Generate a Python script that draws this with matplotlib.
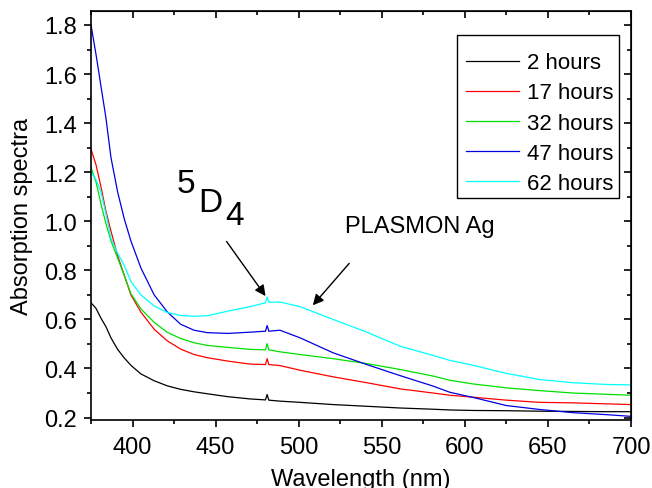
import numpy as np
import matplotlib
matplotlib.use('Agg')
from matplotlib import pyplot as plt
from matplotlib.patches import Rectangle
from matplotlib.ticker import MultipleLocator

# wavelength (nm) and absorbance
wl = [375, 378, 381, 384, 387, 391, 395, 399, 405, 413, 421, 429, 437, 445,
      457.5, 470.7, 480, 481, 482, 488.7, 500.8, 520.7, 541, 561, 581, 591,
      605, 625, 645, 665, 685, 700]

h2 = [0.668, 0.645, 0.605, 0.570, 0.525, 0.478, 0.443, 0.413, 0.378, 0.350,
      0.329, 0.315, 0.305, 0.297, 0.285, 0.276, 0.272, 0.294, 0.271, 0.267,
      0.262, 0.253, 0.246, 0.239, 0.234, 0.231, 0.229, 0.228, 0.226, 0.225,
      0.224, 0.224]
h17 = [1.294, 1.230, 1.140, 1.040, 0.960, 0.860, 0.780, 0.700, 0.630, 0.560,
       0.512, 0.479, 0.457, 0.444, 0.430, 0.418, 0.416, 0.440, 0.416, 0.412,
       0.393, 0.366, 0.342, 0.317, 0.300, 0.291, 0.283, 0.271, 0.262, 0.260,
       0.256, 0.253]
h32 = [1.219, 1.160, 1.070, 0.990, 0.920, 0.850, 0.780, 0.705, 0.643, 0.588,
       0.547, 0.522, 0.505, 0.494, 0.486, 0.478, 0.476, 0.501, 0.476, 0.468,
       0.457, 0.440, 0.420, 0.396, 0.369, 0.352, 0.337, 0.321, 0.310, 0.300,
       0.295, 0.291]
h47 = [1.800, 1.680, 1.550, 1.420, 1.260, 1.120, 1.010, 0.920, 0.810, 0.700,
       0.630, 0.580, 0.556, 0.546, 0.543, 0.548, 0.552, 0.575, 0.552, 0.556,
       0.525, 0.464, 0.416, 0.371, 0.328, 0.303, 0.282, 0.249, 0.233, 0.220,
       0.212, 0.205]
h62 = [1.200, 1.170, 1.120, 1.030, 0.930, 0.870, 0.820, 0.755, 0.700, 0.655,
       0.628, 0.616, 0.613, 0.615, 0.634, 0.652, 0.668, 0.691, 0.670, 0.671,
       0.652, 0.600, 0.548, 0.491, 0.453, 0.433, 0.413, 0.380, 0.355, 0.342,
       0.335, 0.333]

labels = ['2 hours', '17 hours', '32 hours', '47 hours', '62 hours']
colors = ['black', 'red', '#00e000', '#0000e0', 'cyan']

plt.rcParams.update({'font.family': 'Liberation Sans', 'font.size': 17})

fig = plt.figure(figsize=(6.52, 4.89), dpi=100)
ax = fig.add_axes([0.1396, 0.139, 0.8282, 0.8365])

for y, lab, c in zip([h2, h17, h32, h47, h62], labels, colors):
    ax.plot(wl, y, color=c, lw=0.9, label=lab)

ax.set_xlim(375, 700)
ax.set_ylim(0.19, 1.857)
ax.xaxis.set_major_locator(MultipleLocator(50))
ax.xaxis.set_minor_locator(MultipleLocator(25))
ax.yaxis.set_major_locator(MultipleLocator(0.2))
ax.yaxis.set_minor_locator(MultipleLocator(0.1))
ax.yaxis.set_major_formatter(plt.FormatStrFormatter('%.1f'))
ax.tick_params(which='both', direction='out', top=False, right=False, width=1.2)
ax.tick_params(which='major', length=5)
ax.tick_params(which='minor', length=3)
ax.tick_params(axis='x', which='major', pad=6.5)
ax.tick_params(axis='y', which='major', pad=5)
for s in ax.spines.values():
    s.set_linewidth(1.2)

# inward ticks on top and right
ax2 = ax.secondary_xaxis('top')
ax2.xaxis.set_major_locator(MultipleLocator(50))
ax2.xaxis.set_minor_locator(MultipleLocator(25))
ax2.tick_params(which='both', direction='in', labeltop=False, width=1.2)
ax2.tick_params(which='major', length=5)
ax2.tick_params(which='minor', length=3)
ax3 = ax.secondary_yaxis('right')
ax3.yaxis.set_major_locator(MultipleLocator(0.2))
ax3.yaxis.set_minor_locator(MultipleLocator(0.1))
ax3.tick_params(which='both', direction='in', labelright=False, width=1.2)
ax3.tick_params(which='major', length=5)
ax3.tick_params(which='minor', length=3)

ax.set_xlabel('Wavelength (nm)', labelpad=7)
ax.set_ylabel('Absorption spectra', labelpad=8)

# legend box drawn by hand, text sits close to the right edge like the original
ax.add_patch(Rectangle((0.678, 0.544), 0.300, 0.397, transform=ax.transAxes,
                       facecolor='white', edgecolor='black', lw=1.0, zorder=3))
leg = ax.legend(loc='upper left', bbox_to_anchor=(0.694, 0.899), borderaxespad=0,
                frameon=False, fontsize=16, handlelength=2.4, labelspacing=0.41,
                handletextpad=0.35, borderpad=0)
leg.set_zorder(4)

ax.text(426.8, 1.118, '5', fontsize=24)
ax.text(439.4, 1.041, 'D', fontsize=24)
ax.text(455.6, 0.988, '4', fontsize=24)
ax.annotate('', xy=(481, 0.686), xytext=(455.6, 0.927),
            arrowprops=dict(arrowstyle='-|>', color='black', lw=1, mutation_scale=16))
ax.text(528, 0.956, 'PLASMON Ag', fontsize=17)
ax.annotate('', xy=(507.4, 0.649), xytext=(531.5, 0.837),
            arrowprops=dict(arrowstyle='-|>', color='black', lw=1, mutation_scale=16))

fig.savefig('out.png', dpi=100)
